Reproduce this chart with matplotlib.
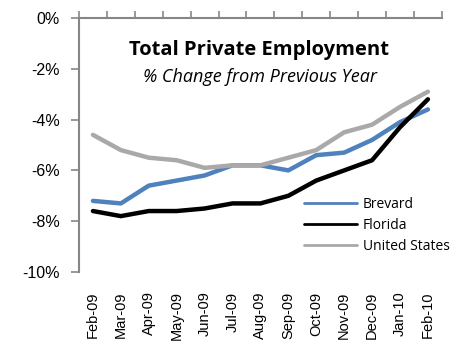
import numpy as np
import matplotlib
matplotlib.use("Agg")
import matplotlib.pyplot as plt
from matplotlib.ticker import FixedLocator, FuncFormatter

months = ["Feb-09", "Mar-09", "Apr-09", "May-09", "Jun-09", "Jul-09", "Aug-09",
          "Sep-09", "Oct-09", "Nov-09", "Dec-09", "Jan-10", "Feb-10"]
brevard = [-7.2, -7.3, -6.6, -6.4, -6.2, -5.8, -5.8, -6.0, -5.4, -5.3, -4.8, -4.1, -3.6]
florida = [-7.6, -7.8, -7.6, -7.6, -7.5, -7.3, -7.3, -7.0, -6.4, -6.0, -5.6, -4.3, -3.2]
united_states = [-4.6, -5.2, -5.5, -5.6, -5.9, -5.8, -5.8, -5.5, -5.2, -4.5, -4.2, -3.5, -2.9]

series = [("Brevard", brevard, "#4F81BD"),
          ("Florida", florida, "#000000"),
          ("United States", united_states, "#A9A9A9")]

plt.rcParams["font.family"] = ["Open Sans", "DejaVu Sans"]
axis_grey = "#868686"

fig = plt.figure(figsize=(4.56, 3.43), dpi=100)
ax = fig.add_axes([0.1732, 0.207, 0.7958, 0.7405])

x = np.arange(len(months))
for name, vals, color in series:
    ax.plot(x, vals, color=color, lw=3.2, solid_capstyle="round",
            solid_joinstyle="round", label=name)

ax.set_xlim(-0.5, len(months) - 0.5)
ax.set_ylim(-10, 0)

for side in ("right", "bottom"):
    ax.spines[side].set_visible(False)
for side in ("left", "top"):
    ax.spines[side].set_color(axis_grey)
    ax.spines[side].set_linewidth(1.5)

# category axis crosses at 0%: tick marks at category boundaries on the top line
ax.xaxis.set_minor_locator(FixedLocator(np.arange(-0.5, len(months), 1.0)))
ax.tick_params(axis="x", which="minor", top=True, bottom=False, direction="out",
               length=5, width=1.2, color=axis_grey)
ax.set_xticks(x)
ax.set_xticklabels(months, rotation=90, fontsize=10.5,
                   family=["Liberation Sans", "DejaVu Sans"])
ax.tick_params(axis="x", which="major", length=0, pad=14, top=False, bottom=True)

ax.set_yticks(np.arange(-10, 1, 2))
ax.yaxis.set_major_formatter(FuncFormatter(lambda v, p: f"{v:.0f}%"))
ax.tick_params(axis="y", direction="out", length=6, width=1.2, color=axis_grey,
               labelsize=11.5, pad=8)
for lab in ax.get_yticklabels():
    lab.set_family(["Liberation Sans", "DejaVu Sans"])

fig.text(0.568, 0.853, "Total Private Employment", ha="center", va="center",
         fontsize=14.5, fontweight="bold")
fig.text(0.57, 0.776, "% Change from Previous Year", ha="center", va="center",
         fontsize=13, style="italic")

leg = ax.legend(loc="upper left", bbox_to_anchor=(0.62, 0.297), frameon=False,
                fontsize=10, handlelength=3.8, handletextpad=0.45,
                labelspacing=0.45, borderaxespad=0, borderpad=0)
for line in leg.get_lines():
    line.set_linewidth(2.0)

fig.savefig("out.png", dpi=100)
